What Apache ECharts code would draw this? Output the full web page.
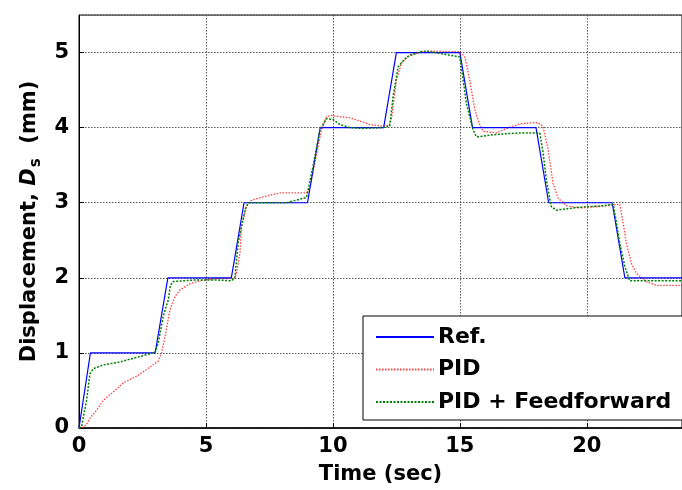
<!DOCTYPE html>
<html>
<head>
<meta charset="utf-8">
<script src="https://cdn.jsdelivr.net/npm/echarts@6/dist/echarts.min.js"></script>
<style>html,body{margin:0;padding:0;background:#fff}#c{width:682px;height:490px}</style>
</head>
<body>
<div id="c"></div>
<script>
var seriesNames = ['Ref.', 'PID', 'PID + Feedforward'];
var xTicks = [0, 5, 10, 15, 20];
var yTicks = [0, 1, 2, 3, 4, 5];

var refData = [[0,0],[0.45,1],[3,1],[3.5,2],[6,2],[6.5,3],[9,3],[9.5,4],[12,4],[12.5,5],[15,5],[15.5,4],[18,4],[18.5,3],[21,3],[21.5,2],[23.75,2]];

var pidData = [[0,0],[0.16,0.01],[0.3,0.05],[0.43,0.13],[0.7,0.24],[0.96,0.37],[1.35,0.48],[1.74,0.6],[2.27,0.69],[2.66,0.78],[3.12,0.89],[3.25,1.0],[3.39,1.22],[3.58,1.57],[3.78,1.75],[3.98,1.84],[4.37,1.92],[4.76,1.96],[5.42,1.99],[6.14,2.0],[6.2,2.05],[6.34,2.33],[6.4,2.68],[6.6,2.95],[6.73,3.02],[6.86,3.04],[7.39,3.09],[7.9,3.13],[8.96,3.13],[9.1,3.2],[9.3,3.55],[9.55,3.97],[9.75,4.15],[9.95,4.16],[10.67,4.13],[11.06,4.09],[11.46,4.04],[11.97,4.02],[12.2,4.03],[12.3,4.1],[12.5,4.63],[12.7,4.86],[13.03,4.97],[13.69,5.02],[15.0,5.01],[15.2,4.94],[15.39,4.63],[15.59,4.24],[15.79,4.03],[15.92,3.95],[16.44,3.93],[16.84,3.99],[17.36,4.05],[18.0,4.07],[18.2,4.04],[18.28,4.01],[18.48,3.7],[18.67,3.26],[18.87,3.06],[19.2,2.96],[19.72,2.93],[20.5,2.95],[21.3,2.98],[21.43,2.73],[21.56,2.46],[21.76,2.19],[21.95,2.06],[22.34,1.95],[22.74,1.9],[23.75,1.9]];

var ffData = [[0,0],[0.1,0.02],[0.3,0.37],[0.43,0.72],[0.56,0.79],[0.96,0.84],[1.61,0.88],[2.27,0.94],[2.7,0.98],[3.0,1.01],[3.12,1.13],[3.32,1.49],[3.52,1.71],[3.6,1.9],[3.71,1.95],[4.5,1.97],[5.5,1.97],[6.0,1.96],[6.14,2.0],[6.27,2.47],[6.54,2.91],[6.67,3.0],[8.17,3.0],[8.96,3.07],[9.22,3.49],[9.49,3.97],[9.75,4.12],[10.0,4.11],[10.28,4.04],[10.67,4.0],[11.18,3.99],[11.97,4.0],[12.24,4.02],[12.37,4.41],[12.57,4.81],[12.9,4.94],[13.43,5.01],[13.69,5.02],[14.2,4.99],[15.0,4.94],[15.13,4.63],[15.26,4.32],[15.52,3.97],[15.65,3.88],[15.79,3.88],[16.18,3.9],[16.84,3.92],[17.49,3.93],[18.15,3.93],[18.28,3.66],[18.41,3.3],[18.6,2.95],[18.8,2.9],[19.46,2.93],[19.7,2.94],[20.64,2.96],[21.04,2.98],[21.17,2.73],[21.3,2.46],[21.5,2.15],[21.69,1.96],[23.75,1.96]];

var FONT = 'DejaVu Sans';
var chart = echarts.init(document.getElementById('c'), null, {renderer: 'canvas'});
chart.setOption({
  animation: false,
  backgroundColor: '#fff',
  grid: {left: 79, top: 15, right: 0, bottom: 62, show: true, borderColor: '#000', borderWidth: 1, containLabel: false},
  legend: {
    orient: 'vertical', left: 363, top: 316,
    data: seriesNames,
    itemWidth: 58, itemHeight: 22, itemGap: 10.5,
    padding: [10, 40, 7, 12],
    backgroundColor: '#fff', borderColor: '#000', borderWidth: 1, borderRadius: 0,
    itemStyle: {opacity: 0},
    textStyle: {fontFamily: FONT, fontWeight: 'bold', fontSize: 22, color: '#000', padding: [0,0,0,-1]}
  },
  xAxis: {
    type: 'value', min: 0, max: 23.75, interval: 5,
    axisLine: {show: true, onZero: false, lineStyle: {color: '#000', width: 1.5}},
    axisTick: {show: true, inside: true, length: 5, lineStyle: {color: '#000'}},
    axisLabel: {fontFamily: FONT, fontWeight: 'bold', fontSize: 21, color: '#000', margin: 8, showMaxLabel: false,
      formatter: function (v) { return xTicks.indexOf(v) >= 0 ? String(v) : ''; }},
    splitLine: {show: true, lineStyle: {color: '#555', type: [1.5, 1.5], width: 1}},
    name: 'Time (sec)', nameLocation: 'middle', nameGap: 36,
    nameTextStyle: {fontFamily: FONT, fontWeight: 'bold', fontSize: 21, color: '#000'}
  },
  yAxis: {
    type: 'value', min: 0, max: 5.5, interval: 1,
    axisLine: {show: true, onZero: false, lineStyle: {color: '#000', width: 1}},
    axisTick: {show: true, inside: true, length: 5, lineStyle: {color: '#000'}},
    axisLabel: {fontFamily: FONT, fontWeight: 'bold', fontSize: 21, color: '#000', margin: 10, showMaxLabel: false,
      formatter: function (v) { return yTicks.indexOf(v) >= 0 ? String(v) : ''; }},
    splitLine: {show: true, lineStyle: {color: '#555', type: [1.5, 1.5], width: 1}},
    name: '{a|Displacement, }{b|D}{c|s}{a|  (mm)}', nameLocation: 'middle', nameGap: 36, nameRotate: 90,
    nameTextStyle: {
      fontFamily: FONT, fontWeight: 'bold', fontSize: 21, color: '#000',
      rich: {
        a: {fontFamily: FONT, fontWeight: 'bold', fontSize: 21, color: '#000', lineHeight: 26},
        b: {fontFamily: FONT, fontWeight: 'bold', fontStyle: 'italic', fontSize: 21, color: '#000', lineHeight: 26},
        c: {fontFamily: FONT, fontWeight: 'bold', fontSize: 15, color: '#000', padding: [12, 0, 0, 1], lineHeight: 26}
      }
    }
  },
  series: [
    {name: seriesNames[0], type: 'line', data: refData, symbol: 'none', showSymbol: false, z: 3,
     lineStyle: {color: '#0000ff', width: 1.2, type: 'solid'}, itemStyle: {color: '#0000ff'}},
    {name: seriesNames[1], type: 'line', data: pidData, symbol: 'none', showSymbol: false, z: 2,
     lineStyle: {color: '#ff2020', width: 1.3, type: [1.5, 1.5], opacity: 0.85}, itemStyle: {color: '#ff2020'}},
    {name: seriesNames[2], type: 'line', data: ffData, symbol: 'none', showSymbol: false, z: 4,
     lineStyle: {color: '#008000', width: 1.5, type: [2, 1.5]}, itemStyle: {color: '#008000'}}
  ]
});
</script>
</body>
</html>
